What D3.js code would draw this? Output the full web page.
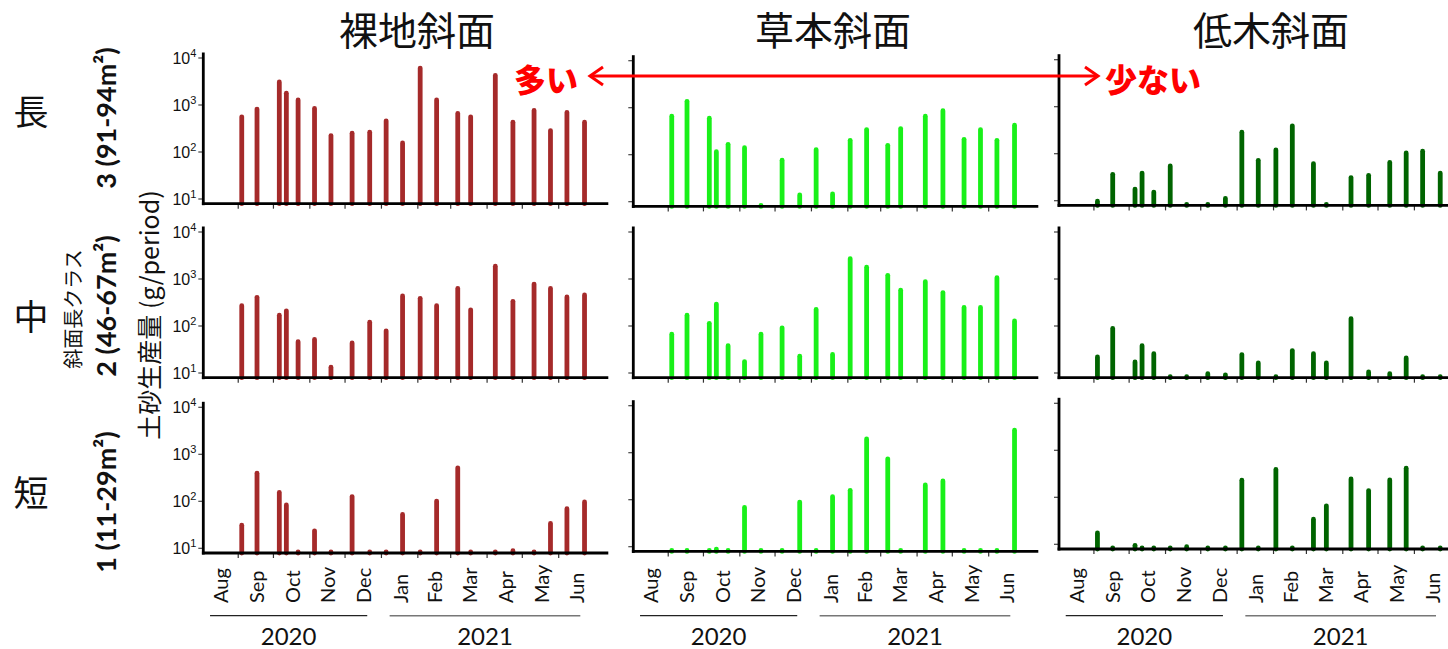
<!DOCTYPE html>
<html>
<head>
<meta charset="utf-8">
<script src="https://cdn.jsdelivr.net/npm/d3@7"></script>
<style>
  html, body { margin: 0; padding: 0; background: #fff; overflow: hidden; }
  svg { display: block; }
</style>
</head>
<body>
<svg id="chart" width="1448" height="649"></svg>
<script>
// Sampling dates (end of each collection period)
const sampleDates = ["2020-09-04","2020-09-17","2020-10-06","2020-10-12","2020-10-22","2020-11-05",
  "2020-11-19","2020-12-07","2020-12-22","2021-01-05","2021-01-19","2021-02-03","2021-02-17",
  "2021-03-07","2021-03-18","2021-04-08","2021-04-23","2021-05-11","2021-05-25","2021-06-08","2021-06-23"];

// Column / row headings
const slopeTypes = ["裸地斜面", "草本斜面", "低木斜面"];
const lengthClasses = ["長", "中", "短"];
const classLabels = ["3 (91-94m²)", "2 (46-67m²)", "1 (11-29m²)"];
const monthLabels = ["Aug","Sep","Oct","Nov","Dec","Jan","Feb","Mar","Apr","May","Jun"];
const yearLabels = ["2020", "2021"];
const yTicks = [10, 100, 1000, 10000];

// Sediment yield (g/period); 0 = no sediment collected
const bareLong   = [630, 920, 3490, 2000, 1440, 950, 251, 282, 296, 518, 175, 6850, 1440, 744, 630, 4770, 485, 862, 321, 781, 485];
const bareMid    = [303, 459, 191, 237, 52, 58, 14.9, 49, 135, 89, 491, 437, 303, 706, 249, 2110, 377, 876, 706, 467, 516];
const bareShort  = [35, 444, 173, 94, 0, 26.5, 0, 142, 0, 0, 59, 0, 114, 579, 0, 0, 10, 0, 38, 78, 109];
const grassLong  = [744, 1534, 674, 130, 187, 158, 0, 86, 15.6, 144, 16.4, 228, 385, 178, 405, 744, 968, 239, 385, 228, 477];
const grassMid   = [75.5, 191, 128, 330, 43, 19.7, 75.5, 103, 25.7, 253, 27.9, 3033, 2005, 1346, 650, 984, 579, 279, 279, 1200, 144];
const grassShort = [0, 0, 0, 10, 0, 77, 0, 0, 100, 0, 130, 178, 2200, 835, 0, 231, 282, 9, 0, 0, 3380];
const shrubLong  = [11, 41, 19.9, 43.6, 17.2, 61.7, 0, 0, 12.6, 323, 81.5, 135, 440, 69, 0, 35, 39, 73, 117, 127, 43.6];
const shrubMid   = [24.7, 100, 19.3, 43, 29, 0, 0, 10.9, 10.3, 27.7, 18.4, 0, 33.8, 29, 18.4, 161, 11.8, 10.9, 23.5, 9.3, 0];
const shrubShort = [19.6, 0, 10.7, 0, 0, 0, 10, 0, 0, 260, 0, 440, 0, 38.5, 74, 277, 156, 264, 469, 0, 0];

const seriesGrid = [
  [bareLong, grassLong, shrubLong],
  [bareMid, grassMid, shrubMid],
  [bareShort, grassShort, shrubShort]
];
const colColors = ["#a52a2a", "#19f019", "#006400"];

// ---------- layout ----------
const svg = d3.select("#chart");
const colX = [203.3, 633.3, 1059];
const plotW = 405;
const rowY10 = [[199, 201.7, 200.7], [373, 373, 373], [548.3, 546.7, 544.3]]; // y of 10^1 per row/column
const decade = 47;
const baseGap = 4.7;   // x axis sits slightly below 10^1
const barW = 4.8;
const capR = barW / 2;

const CJK = "'Noto Sans CJK JP', 'Noto Sans', sans-serif";
const LAT = "Lato, 'Open Sans', sans-serif";
const ARIAL = "'Liberation Sans', Arial, sans-serif";

const parse = d3.utcParse("%Y-%m-%d");
const dates = sampleDates.map(parse);

const xTime = d3.scaleUtc()
  .domain([Date.UTC(2020, 7, 2, 6), Date.UTC(2021, 6, 13, 6)])
  .range([0, plotW]);

const monthStarts = d3.utcMonths(Date.UTC(2020, 7, 1), Date.UTC(2021, 6, 1));
const tickMonths = monthStarts.slice(1); // Sep .. Jun
const monthMids = monthStarts.map(d => new Date((+d + +d3.utcMonth.offset(d, 1)) / 2));

for (let c = 0; c < 3; c++) {
  const x0 = colX[c];
  const colG = svg.append("g").attr("transform", `translate(${x0},0)`);

  for (let r = 0; r < 3; r++) {
    const y10 = rowY10[r][c];
    const axisY = y10 + baseGap;
    const y = d3.scaleLog().domain([10, 10000]).range([y10, y10 - 3 * decade]);
    const vals = seriesGrid[r][c];
    const g = colG.append("g");

    // bars as thick round-capped lines from the baseline
    g.selectAll("line.bar")
      .data(vals.map((v, i) => ({ v, d: dates[i] })))
      .join("line")
      .attr("class", "bar")
      .attr("x1", d => xTime(d.d))
      .attr("x2", d => xTime(d.d))
      .attr("y1", axisY)
      .attr("y2", d => d.v > 0 ? Math.min(axisY - 1, y(d.v) + capR) : axisY - 1)
      .attr("stroke", colColors[c])
      .attr("stroke-width", barW)
      .attr("stroke-linecap", "round");

    // y ticks
    g.selectAll("line.ytick")
      .data(yTicks)
      .join("line")
      .attr("class", "ytick")
      .attr("x1", -5).attr("x2", 0)
      .attr("y1", d => y(d)).attr("y2", d => y(d))
      .attr("stroke", "#444").attr("stroke-width", 1.2);

    if (c === 0) {
      const lab = g.selectAll("text.ylab")
        .data(yTicks)
        .join("text")
        .attr("class", "ylab")
        .attr("x", -7)
        .attr("y", d => y(d) + 6)
        .attr("text-anchor", "end")
        .attr("font-family", ARIAL)
        .attr("fill", "#111");
      lab.append("tspan").attr("font-size", 16).text("10");
      lab.append("tspan").attr("font-size", 11).attr("dy", -7).text(d => Math.round(Math.log10(d)));
    }

    // x ticks at month starts
    g.selectAll("line.xtick")
      .data(tickMonths)
      .join("line")
      .attr("class", "xtick")
      .attr("x1", d => xTime(d)).attr("x2", d => xTime(d))
      .attr("y1", axisY).attr("y2", axisY + 5)
      .attr("stroke", "#333").attr("stroke-width", 1.2);

    // axis lines
    g.append("line")
      .attr("x1", 0).attr("x2", 0)
      .attr("y1", y(10000) - 5.5).attr("y2", axisY + 1.5)
      .attr("stroke", "#000").attr("stroke-width", 2.8);
    g.append("line")
      .attr("x1", -1.4).attr("x2", plotW)
      .attr("y1", axisY).attr("y2", axisY)
      .attr("stroke", "#000").attr("stroke-width", 2.8);
  }

  // month labels
  colG.selectAll("text.month")
    .data(monthLabels)
    .join("text")
    .attr("class", "month")
    .attr("transform", (d, i) => `translate(${xTime(monthMids[i])},603) rotate(-90)`)
    .attr("text-anchor", "start")
    .attr("dominant-baseline", "central")
    .attr("font-family", LAT)
    .attr("font-size", 20)
    .attr("fill", "#111")
    .text(d => d);

  // year brackets
  const yearSpans = [[0, 4], [5, 10]];
  yearSpans.forEach((s, k) => {
    const xa = xTime(monthMids[s[0]]) - 10;
    const xb = xTime(monthMids[s[1]]) + 4;
    colG.append("line")
      .attr("x1", xa).attr("x2", xb)
      .attr("y1", 615.7).attr("y2", 615.7)
      .attr("stroke", k === 0 ? "#222" : "#777")
      .attr("stroke-width", k === 0 ? 1.2 : 1.6);
    colG.append("text")
      .attr("x", (xa + xb) / 2)
      .attr("y", 645)
      .attr("text-anchor", "middle")
      .attr("font-family", LAT)
      .attr("font-size", 24)
      .attr("fill", "#111")
      .text(yearLabels[k]);
  });

  // column title
  svg.append("text")
    .attr("x", [417, 833, 1271][c])
    .attr("y", 45)
    .attr("text-anchor", "middle")
    .attr("font-family", CJK)
    .attr("font-size", 39)
    .attr("fill", "#111")
    .text(slopeTypes[c]);
}

// ---------- row headings ----------
const rowCenters = [118, 306, 502];
const charY = [109, 314, 490];
lengthClasses.forEach((t, i) => {
  svg.append("text")
    .attr("x", 31).attr("y", charY[i])
    .attr("text-anchor", "middle")
    .attr("dominant-baseline", "central")
    .attr("font-family", CJK)
    .attr("font-size", 35)
    .attr("fill", "#111")
    .text(t);
});
classLabels.forEach((t, i) => {
  svg.append("text")
    .attr("transform", `translate(105,${rowCenters[i]}) rotate(-90)`)
    .attr("text-anchor", "middle")
    .attr("dominant-baseline", "central")
    .attr("font-family", LAT)
    .attr("font-weight", 700)
    .attr("font-size", 27)
    .attr("fill", "#111")
    .text(t);
});
svg.append("text")
  .attr("transform", "translate(72,309) rotate(-90)")
  .attr("text-anchor", "middle")
  .attr("dominant-baseline", "central")
  .attr("font-family", CJK)
  .attr("font-size", 20)
  .attr("fill", "#111")
  .text("斜面長クラス");
svg.append("text")
  .attr("transform", "translate(148,315) rotate(-90)")
  .attr("text-anchor", "middle")
  .attr("dominant-baseline", "central")
  .attr("font-family", CJK)
  .attr("font-size", 25)
  .attr("fill", "#111")
  .text("土砂生産量 (g/period)");

// ---------- red double arrow: more ↔ less ----------
const arrowY = 76, ax1 = 590, ax2 = 1098;
const ag = svg.append("g").attr("stroke", "#ff0000").attr("stroke-width", 3).attr("fill", "none");
ag.append("line").attr("x1", ax1).attr("x2", ax2).attr("y1", arrowY).attr("y2", arrowY);
ag.append("path").attr("d", `M${ax1 + 13},${arrowY - 9} L${ax1},${arrowY} L${ax1 + 13},${arrowY + 9}`);
ag.append("path").attr("d", `M${ax2 - 13},${arrowY - 9} L${ax2},${arrowY} L${ax2 - 13},${arrowY + 9}`);
svg.append("text")
  .attr("x", 578).attr("y", 78)
  .attr("text-anchor", "end")
  .attr("dominant-baseline", "central")
  .attr("font-family", CJK).attr("font-weight", 900)
  .attr("font-size", 32).attr("fill", "#ff0000")
  .text("多い");
svg.append("text")
  .attr("x", 1105).attr("y", 78)
  .attr("text-anchor", "start")
  .attr("dominant-baseline", "central")
  .attr("font-family", CJK).attr("font-weight", 900)
  .attr("font-size", 32).attr("fill", "#ff0000")
  .text("少ない");
</script>
</body>
</html>
